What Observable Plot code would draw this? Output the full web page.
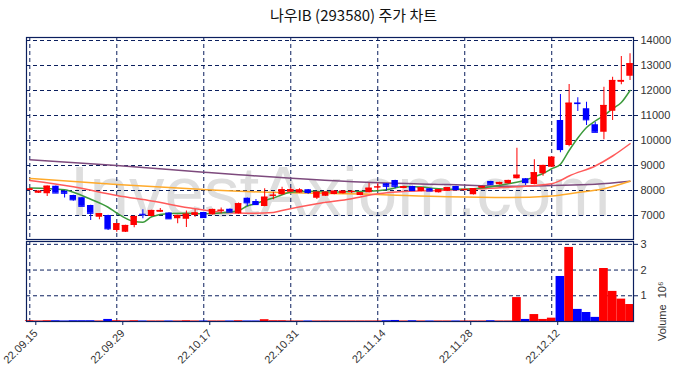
<!DOCTYPE html>
<html><head><meta charset="utf-8">
<script src="https://cdn.jsdelivr.net/npm/d3@7"></script>
<script src="https://cdn.jsdelivr.net/npm/@observablehq/plot@0.6"></script>
<style>
body{margin:0;background:#fff;}
#wrap{position:relative;width:683px;height:378px;overflow:hidden;background:#fff;}
#title{position:absolute;top:5px;left:12px;width:683px;text-align:center;font-family:"Noto Sans CJK KR",sans-serif;font-size:15px;color:#111;line-height:20px;}
#wrap svg{position:absolute;top:0;left:0;}
</style></head>
<body>
<div id="wrap"><div id="title">나우IB (293580) 주가 차트</div></div>
<script>
// ---- data ----
const tickIdx = [0, 10, 20, 30, 40, 50, 60];
const tickLabels = ["22.09.15","22.09.29","22.10.17","22.10.31","22.11.14","22.11.28","22.12.12"];
const priceTicks = [7000, 8000, 9000, 10000, 11000, 12000, 13000, 14000];
const volTicks = [1, 2, 3];

const open  = [8000,7890,7870,8170,7970,7800,7710,7400,6930,7000,6400,6330,6600,7050,6960,7130,7100,6870,6850,7000,7120,7030,7180,7250,7070,7690,7560,7360,7780,7830,7930,7900,8030,7690,7770,7840,7870,7920,7800,7910,8120,8270,8400,8080,8160,7960,8070,7910,7970,8160,8000,7830,8090,8360,8230,8270,8470,8470,8240,8670,8930,10800,9800,11500,11270,10630,10330,11170,12330,12570];
const high  = [8080,7980,8180,8180,7980,7810,7720,7410,7080,7010,6680,6610,6970,7230,7210,7280,7110,7010,7180,7230,7130,7250,7300,7260,7500,7700,7640,8070,7930,8130,8100,8070,8040,7940,7940,7980,7980,8000,7920,8290,8270,8280,8410,8170,8170,8120,8080,8040,8120,8170,8060,8080,8170,8370,8330,8410,9690,8480,9230,9010,9340,11840,12240,11710,11530,10730,12130,12530,13360,13470];
const low   = [7990,7880,7760,7890,7700,7570,7360,6800,6830,6400,6330,6320,6510,6870,6950,7120,6860,6670,6520,6930,6910,7020,7070,7130,7060,7360,7430,7350,7630,7820,7920,7890,7850,7640,7760,7830,7860,7880,7790,7900,7990,8000,8070,8070,7990,7950,7970,7900,7960,8030,7990,7820,8080,8200,8220,8260,8460,8200,8230,8570,8920,9510,9750,11160,10600,10320,10030,10800,12230,12400];
const close = [8060,7970,8170,7900,7890,7630,7370,7090,7070,6470,6670,6600,6960,7030,7200,7200,6870,7000,7050,7100,6920,7240,7210,7140,7470,7510,7440,7730,7810,8030,8030,8020,7920,7930,7930,7970,7970,7960,7910,8090,8140,8170,8170,8150,8000,8110,7980,8030,8110,8040,8040,8070,8160,8250,8320,8400,8610,8320,8710,9000,9330,9640,11490,11480,10830,10330,11400,12400,12400,13070];
const volume = [0.03,0.02,0.03,0.03,0.02,0.03,0.03,0.03,0.02,0.08,0.03,0.02,0.03,0.02,0.02,0.02,0.02,0.02,0.03,0.02,0.02,0.02,0.02,0.02,0.03,0.02,0.02,0.07,0.03,0.03,0.02,0.02,0.02,0.02,0.02,0.02,0.02,0.02,0.02,0.02,0.02,0.03,0.04,0.02,0.03,0.02,0.02,0.02,0.02,0.02,0.02,0.02,0.02,0.03,0.02,0.02,0.93,0.08,0.27,0.08,0.13,1.75,2.88,0.47,0.35,0.16,2.06,1.17,0.87,0.66];

const ma5  = [[0,8100],[4,8030],[5,7930],[7,7650],[9,7330],[10,7100],[12,6760],[13,6730],[14,6950],[16,7080],[18,7090],[20,7070],[22,7100],[24,7200],[25,7380],[26,7480],[27,7600],[28,7700],[29,7830],[30,7930],[32,7970],[35,7940],[37,7960],[39,7970],[41,8030],[43,8160],[45,8140],[47,8070],[49,8050],[51,8070],[53,8150],[55,8270],[57,8420],[58,8550],[59,8680],[60,8870],[61,9050],[62,9600],[63,10100],[64,10520],[65,10780],[66,11000],[67,11270],[68,11520],[69,12000]];
const ma20 = [[0,8400],[5,8150],[10,7800],[14,7580],[19,7270],[22,7130],[25,7090],[28,7120],[29,7200],[33,7470],[37,7670],[40,7870],[43,7960],[47,8000],[51,8060],[55,8130],[60,8270],[61,8400],[62,8580],[65,8980],[67,9380],[69,9870]];
const ma60 = [[0,8480],[10,8240],[20,8040],[24,7970],[40,7840],[48,7750],[55,7720],[60,7780],[63,7920],[66,8070],[69,8370]];
const ma120 = [[0,9230],[10,9000],[20,8730],[24,8630],[40,8310],[48,8240],[55,8170],[60,8200],[65,8250],[69,8370]];

// ---- build ----
const candles = open.map((o, i) => ({i, o, h: high[i], l: low[i], c: close[i], v: volume[i], up: close[i] >= o}));
const RED = "#ff0000", BLUE = "#0000ff", NAVY = "#0b1f5e";
const col = d => d.up ? RED : BLUE;
const xDomain = [-0.38, 69.4];
const font = {fontFamily: "'Liberation Sans', Arial, sans-serif", fontSize: "11px", color: "#333", background: "transparent", overflow: "visible"};
const maLine = (arr, stroke) => Plot.line(arr, {x: d => d[0], y: d => d[1], stroke, strokeWidth: 1.5, curve: "monotone-x"});

const main = Plot.plot({
  width: 683, height: 378, marginTop: 37, marginBottom: 139, marginLeft: 26, marginRight: 50,
  style: font,
  x: {domain: xDomain, axis: null},
  y: {domain: [6040, 14120], axis: null},
  marks: [
    Plot.text(["InvestAxiom.com"], {text: d => d, frameAnchor: "bottom", lineAnchor: "bottom", dx: 10, dy: -24, fontSize: 71, fill: "#dedede", fontFamily: "'Liberation Sans', Arial, sans-serif"}),
    Plot.ruleY(priceTicks, {stroke: NAVY, strokeDasharray: "4,3", strokeWidth: 1}),
    Plot.ruleX(tickIdx, {stroke: NAVY, strokeDasharray: "4,3", strokeWidth: 1}),
    maLine(ma120, "#7d4a7d"),
    maLine(ma60, "#ffaa2a"),
    maLine(ma20, "#ff5a5a"),
    maLine(ma5, "#3c9a3c"),
    Plot.ruleX(candles, {x: "i", y1: "l", y2: "h", stroke: col, strokeWidth: 1}),
    Plot.rect(candles, {x1: d => d.i - 0.37, x2: d => d.i + 0.37, y1: "o", y2: "c", fill: col}),
    Plot.ruleY(candles, {x1: d => d.i - 0.37, x2: d => d.i + 0.37, y: "c", stroke: col, strokeWidth: 1.2}),
    Plot.axisY(priceTicks, {anchor: "right", label: null, tickSize: 4, tickPadding: 3, tickFormat: d => String(d), stroke: NAVY, fill: "#333"}),
    Plot.frame({stroke: NAVY, strokeWidth: 1.2})
  ]
});

const vol = Plot.plot({
  width: 683, height: 378, marginTop: 241, marginBottom: 57, marginLeft: 26, marginRight: 50,
  style: font,
  x: {domain: xDomain, axis: null},
  y: {domain: [0, 3.11], axis: null},
  marks: [
    Plot.ruleY(volTicks, {stroke: NAVY, strokeDasharray: "4,3", strokeWidth: 1}),
    Plot.ruleX(tickIdx, {stroke: NAVY, strokeDasharray: "4,3", strokeWidth: 1}),
    Plot.rect(candles, {x1: d => d.i - 0.5, x2: d => d.i + 0.5, y1: 0, y2: "v", fill: col}),
    Plot.axisY(volTicks, {anchor: "right", label: null, tickSize: 4, tickPadding: 3, stroke: NAVY, fill: "#333"}),
    Plot.axisX(tickIdx, {anchor: "bottom", label: null, tickSize: 4, tickRotate: -45, tickPadding: 6, dx: 6, dy: 0, tickFormat: d => tickLabels[tickIdx.indexOf(d)], stroke: NAVY, fill: "#333"}),
    Plot.text(["Volume  10⁶"], {text: d => d, frameAnchor: "right", rotate: -90, dx: 29, fontSize: 11, fill: "#333"}),
    Plot.frame({stroke: NAVY, strokeWidth: 1.2})
  ]
});

const wrap = document.getElementById("wrap");
wrap.appendChild(main);
wrap.appendChild(vol);
</script>
</body></html>
